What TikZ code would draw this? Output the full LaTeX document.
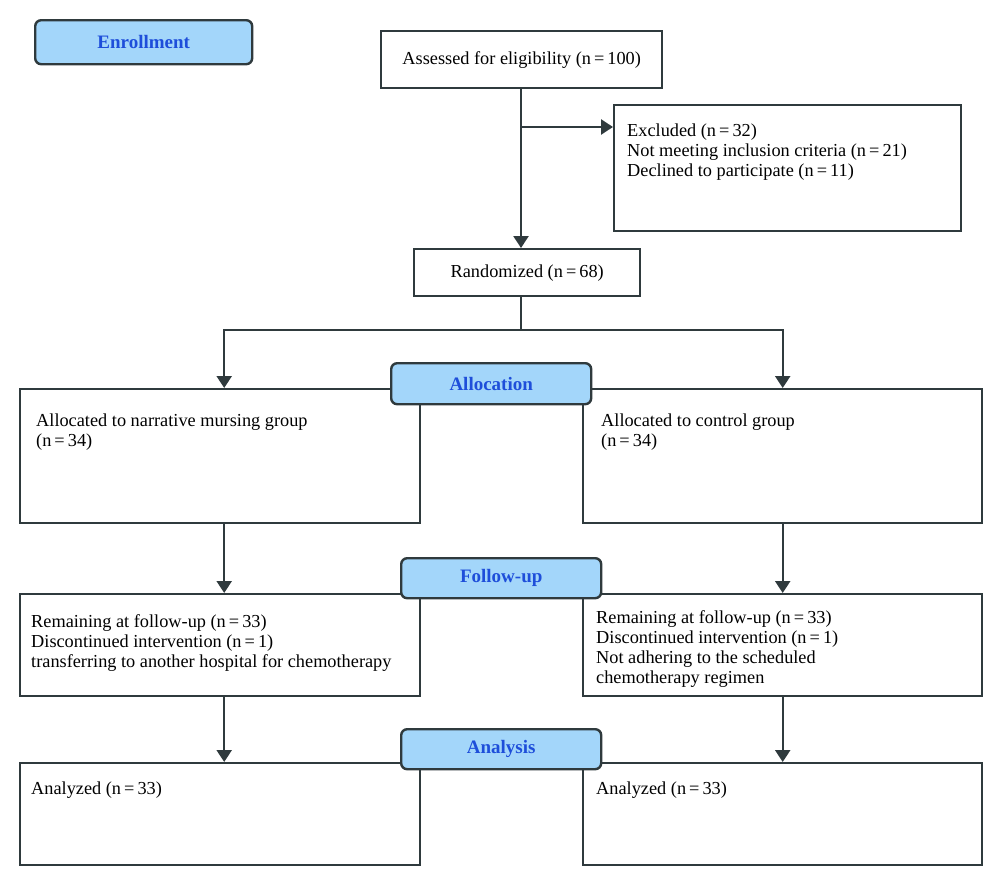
\documentclass[tikz,border=0pt]{standalone}
\usepackage{fontspec}
\setmainfont{Liberation Serif}
\usetikzlibrary{arrows.meta}
\definecolor{edge}{RGB}{47,58,61}
\definecolor{tagfill}{RGB}{163,214,250}
\definecolor{tagtext}{RGB}{30,78,218}
\begin{document}
\begin{tikzpicture}[x=1pt,y=-1pt,
  box/.style={draw=edge,line width=2.4pt,fill=white,inner sep=0pt,anchor=north west},
  txt/.style={inner sep=0pt,anchor=north west,align=left,font=\fontsize{18.3}{20}\selectfont},
  ctxt/.style={inner sep=0pt,font=\fontsize{18.3}{20}\selectfont},
  tag/.style={draw=edge,line width=2.4pt,fill=tagfill,rounded corners=6pt,inner sep=0pt,
    anchor=north west,text=tagtext,font=\fontsize{19}{20}\selectfont\bfseries},
  link/.style={draw=edge,line width=2.4pt},
  arr/.style={link,-{Triangle[length=12pt,width=15pt]}}]
\useasboundingbox (0,0) rectangle (1000,886);

% enrollment stage
\node[tag,minimum width=217,minimum height=44] (enroll) at (34,19) {Enrollment};
\node[box,minimum width=281,minimum height=57] (assess) at (380,30) {};
\node[ctxt] (assesst) at (assess.center) {Assessed for eligibility (n\,=\,100)};
\node[box,minimum width=347,minimum height=126] (excl) at (613,104) {};
\node[txt] (exclt) at (627,124) {Excluded (n\,=\,32)\\Not meeting inclusion criteria (n\,=\,21)\\Declined to participate (n\,=\,11)};
\node[box,minimum width=226,minimum height=47] (rand) at (413,248) {};
\node[ctxt] (randt) at (rand.center) {Randomized (n\,=\,68)};

\coordinate (trunk) at (521,87);
\coordinate (branch) at (521,127);
\draw[arr] (trunk) -- (trunk |- rand.north);
\draw[arr] (branch) -- (branch -| excl.west);

% allocation stage
\node[box,minimum width=400,minimum height=134] (allocl) at (19,388) {};
\node[box,minimum width=399,minimum height=134] (allocr) at (582,388) {};
\node[txt] (alloclt) at (36,414) {Allocated to narrative mursing group\\(n\,=\,34)};
\node[txt] (allocrt) at (601,414) {Allocated to control group\\(n\,=\,34)};
\coordinate (split) at (521,330);
\draw[link] (split |- rand.south) -- (split);
\draw[arr] (split) -| ([xshift=4]allocl.north);
\draw[arr] (split) -| (allocr.north);
\node[tag,minimum width=200,minimum height=41] (alloc) at (390,362) {Allocation};

% follow-up stage
\node[box,minimum width=400,minimum height=102] (fupl) at (19,593) {};
\node[box,minimum width=399,minimum height=102] (fupr) at (582,593) {};
\node[txt] (fuplt) at (31,614) {Remaining at follow-up (n\,=\,33)\\Discontinued intervention (n\,=\,1)\\transferring to another hospital for chemotherapy};
\node[txt] (fuprt) at (596,610) {Remaining at follow-up (n\,=\,33)\\Discontinued intervention (n\,=\,1)\\Not adhering to the scheduled\\chemotherapy regimen};
\draw[arr] ([xshift=4]allocl.south) -- ([xshift=4]fupl.north);
\draw[arr] (allocr.south) -- (fupr.north);
\node[tag,minimum width=200,minimum height=40] (fup) at (400,557) {Follow-up};

% analysis stage
\node[box,minimum width=400,minimum height=102] (anl) at (19,762) {};
\node[box,minimum width=399,minimum height=102] (anr) at (582,762) {};
\node[txt] (anlt) at (31,782) {Analyzed (n\,=\,33)};
\node[txt] (anrt) at (596,782) {Analyzed (n\,=\,33)};
\draw[arr] ([xshift=4]fupl.south) -- ([xshift=4]anl.north);
\draw[arr] (fupr.south) -- (anr.north);
\node[tag,minimum width=200,minimum height=40] (anal) at (400,728) {Analysis};
\end{tikzpicture}
\end{document}
